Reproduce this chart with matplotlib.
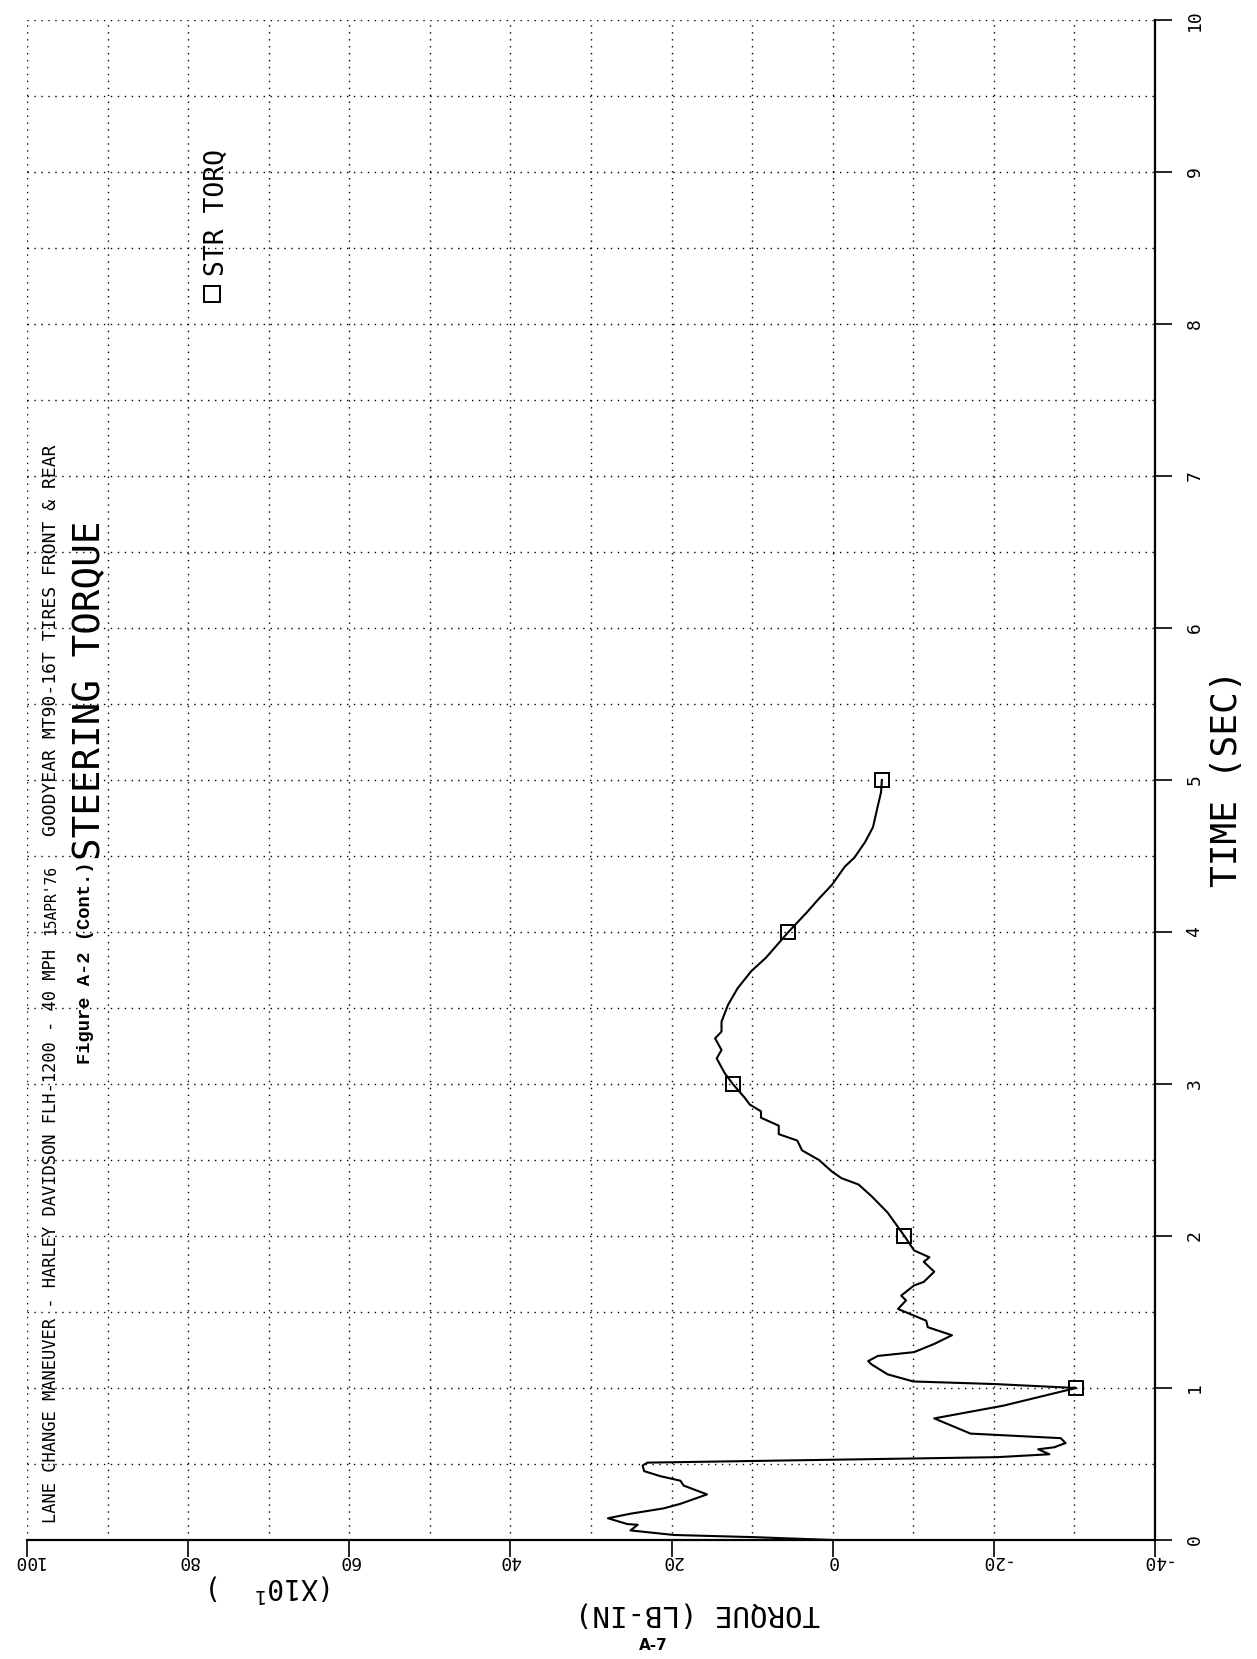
import numpy as np
import matplotlib
matplotlib.use("Agg")
import matplotlib.pyplot as plt
from matplotlib.lines import Line2D
from matplotlib.ticker import MultipleLocator

# --- DATA ---
TIME_SEC = [0.000, 0.019, 0.033, 0.063, 0.100, 0.105, 0.143, 0.173, 0.208, 0.238,
            0.300, 0.358, 0.390, 0.420, 0.453, 0.490, 0.509, 0.545, 0.564, 0.597,
            0.610, 0.638, 0.670, 0.700, 0.800, 0.884, 1.000, 1.026, 1.043, 1.090,
            1.156, 1.177, 1.211, 1.236, 1.290, 1.347, 1.400, 1.443, 1.520, 1.576,
            1.608, 1.675, 1.698, 1.765, 1.830, 1.860, 1.905, 2.000, 2.155, 2.263,
            2.339, 2.380, 2.424, 2.500, 2.563, 2.628, 2.670, 2.726, 2.778, 2.820,
            2.865, 2.908, 3.000, 3.071, 3.168, 3.224, 3.300, 3.345, 3.410, 3.520,
            3.630, 3.743, 3.830, 4.000, 4.130, 4.220, 4.310, 4.430, 4.490, 4.590,
            4.690, 4.830, 4.920, 5.000]
STR_TORQ = [0.0, 9.9, 19.7, 25.1, 24.2, 25.5, 27.9, 25.1, 21.0, 18.9,
            15.6, 18.5, 18.9, 21.4, 23.4, 23.6, 23.0, -20.4, -26.9, -25.5,
            -27.5, -28.9, -28.3, -17.1, -12.6, -21.2, -30.2, -20.1, -10.0, -6.8,
            -4.8, -4.4, -5.6, -10.1, -12.6, -14.8, -11.8, -11.6, -8.1, -9.1,
            -8.5, -10.1, -11.3, -12.6, -11.3, -12.0, -10.1, -8.9, -6.8, -4.8,
            -3.2, -1.1, 0.1, 1.7, 3.8, 4.4, 6.7, 6.7, 8.9, 8.9,
            10.3, 10.9, 12.4, 13.4, 14.4, 13.8, 14.6, 13.8, 13.8, 13.0,
            11.8, 10.1, 8.3, 5.5, 3.2, 1.7, 0.1, -1.5, -2.7, -4.0,
            -5.0, -5.6, -6.0, -6.1]
MARK_TIMES = [1.0, 2.0, 3.0, 4.0, 5.0]

TORQUE_TICKS = [100, 80, 60, 40, 20, 0, -20, -40]
TIME_TICKS = list(range(0, 11))

W, H = 1257, 1659
MONO = ["DejaVu Sans Mono"]


def fpos(x, y):
    # pixel position (from top-left) -> figure fraction
    return x / W, 1 - y / H


fig = plt.figure(figsize=(W / 100, H / 100), dpi=100)
fig.patch.set_facecolor("white")

# axes frame: torque from 100 (left) to -40 (right), time 0 (bottom) to 10 (top)
ax = fig.add_axes([27 / W, 119 / H, 1128 / W, 1520 / H])
ax.set_xlim(100, -40)
ax.set_ylim(0, 10)

mark_idx = [TIME_SEC.index(t) for t in MARK_TIMES]
ax.plot(STR_TORQ, TIME_SEC, color="black", lw=1.5, marker="s", markevery=mark_idx,
        markersize=9.5, markerfacecolor="none", markeredgecolor="black",
        markeredgewidth=1.4, zorder=5)

# grid every 10 torque units and every 0.5 s
ax.set_xticks(TORQUE_TICKS)
ax.xaxis.set_minor_locator(MultipleLocator(10))
ax.set_yticks(TIME_TICKS)
ax.yaxis.set_minor_locator(MultipleLocator(0.5))
ax.grid(True, which="both", color="black", linestyle=(0, (1, 4)), linewidth=1.0)

for s in ["left", "top"]:
    ax.spines[s].set_visible(False)
for s in ["bottom", "right"]:
    ax.spines[s].set_linewidth(1.6)

ax.yaxis.tick_right()
ax.tick_params(axis="x", which="major", direction="out", length=12, width=1.2,
               pad=-3, labelsize=13, labelrotation=180)
ax.tick_params(axis="y", which="major", direction="out", length=12, width=1.2,
               pad=10, labelsize=13, labelrotation=90)
ax.tick_params(which="minor", length=0)
ax.set_xticklabels([str(v) for v in TORQUE_TICKS])
ax.set_yticklabels([str(v) for v in TIME_TICKS])
for lab in ax.get_xticklabels():
    lab.set_family(MONO)
    lab.set_va("top")
for lab in ax.get_yticklabels():
    lab.set_family(MONO)
    lab.set_va("center")
    lab.set_ha("left")

# axis titles
fig.text(*fpos(1227, 778), "TIME (SEC)", rotation=90, ha="center", va="center",
         fontsize=26, family=MONO)
fig.text(*fpos(698, 1613), "TORQUE (LB-IN)", rotation=180, ha="center", va="center",
         fontsize=21, family=MONO)
fig.text(*fpos(272, 1588), "(X10$^{1}$  )", rotation=180, ha="center", va="center",
         fontsize=20, family=MONO)

# header texts along the left edge
fig.text(*fpos(51, 1236), "LANE CHANGE MANEUVER - HARLEY DAVIDSON FLH-1200 - 40 MPH",
         rotation=90, ha="center", va="center", fontsize=12.3, family=MONO)
fig.text(*fpos(51, 900), "15APR'76", rotation=90, ha="center", va="center",
         fontsize=10.5, family=MONO)
fig.text(*fpos(51, 640), "GOODYEAR MT90-16T TIRES FRONT & REAR", rotation=90,
         ha="center", va="center", fontsize=13, family=MONO)
fig.text(*fpos(85, 963), "Figure A-2 (Cont.)", rotation=90, ha="center", va="center",
         fontsize=13.5, family=["Liberation Mono", "DejaVu Sans Mono"], fontweight="bold")
fig.text(*fpos(90, 690), "STEERING TORQUE", rotation=90, ha="center", va="center",
         fontsize=27, family=MONO)

# legend
lx, ly = fpos(212, 294)
fig.add_artist(Line2D([lx], [ly], marker="s", markersize=12, markerfacecolor="none",
                      markeredgecolor="black", markeredgewidth=1.4, linestyle="none",
                      transform=fig.transFigure))
fig.text(*fpos(217, 212), "STR TORQ", rotation=90, ha="center", va="center",
         fontsize=19, family=MONO)

# page number
fig.text(*fpos(653, 1645), "A-7", ha="center", va="center", fontsize=11,
         fontweight="bold", family=["DejaVu Sans"])

fig.savefig("out.png", dpi=100, facecolor="white")
